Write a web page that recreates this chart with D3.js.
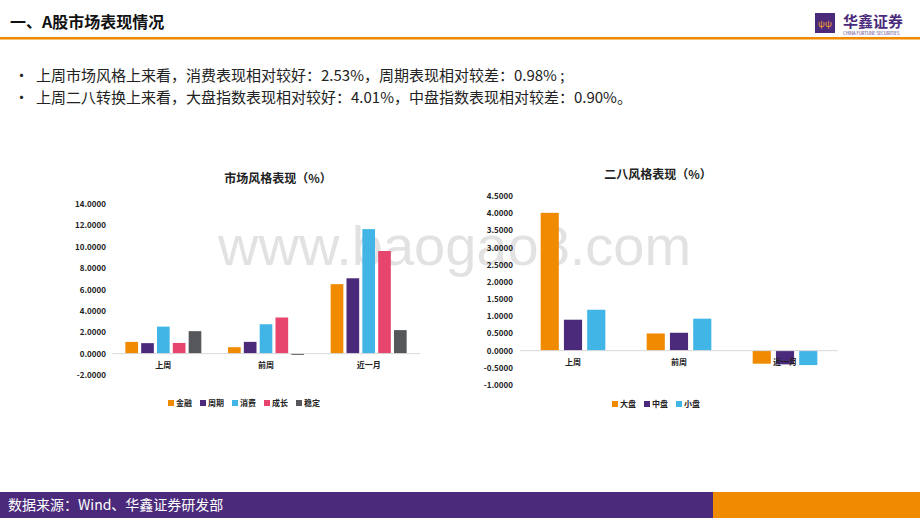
<!DOCTYPE html>
<html><head><meta charset="utf-8">
<script src="https://cdn.jsdelivr.net/npm/d3@7"></script>
<style>body{margin:0;background:#fff}svg{display:block;font-family:"Noto Sans CJK SC","Noto Sans",sans-serif}</style>
</head><body><svg id="c" width="920" height="518"></svg>
<script>
const styleCats=["上周","前周","近一月"];
const styleSeries=["金融","周期","消费","成长","稳定"];
const styleVals=[[1.10,0.98,2.53,1.00,2.10],[0.60,1.10,2.75,3.38,-0.12],[6.50,7.05,11.65,9.60,2.20]];
const styleTicks=[-2,0,2,4,6,8,10,12,14];
const sizeCats=["上周","前周","近一月"];
const sizeSeries=["大盘","中盘","小盘"];
const sizeVals=[[4.01,0.90,1.19],[0.50,0.52,0.93],[-0.38,-0.40,-0.42]];
const sizeTicks=[-1,-0.5,0,0.5,1,1.5,2,2.5,3,3.5,4,4.5];
const colors5=["#F08A00","#4B2A7B","#41B6E6","#E8456E","#55575B"];
const colors3=["#F08A00","#4B2A7B","#41B6E6"];

const svg=d3.select("#c");
svg.append("text").attr("x",10).attr("y",28).attr("font-size",16).attr("font-weight","bold").attr("fill","#111").text("一、A股市场表现情况");
svg.append("rect").attr("x",0).attr("y",37).attr("width",920).attr("height",2.5).attr("fill","#F08A00");
svg.append("rect").attr("x",815).attr("y",13).attr("width",20).attr("height",20).attr("fill","#4B2A7B");
svg.append("text").attr("x",825).attr("y",27).attr("text-anchor","middle").attr("font-size",9).attr("fill","#F0A030").text("ψψ");
svg.append("text").attr("x",843).attr("y",27).attr("font-size",15).attr("font-weight","bold").attr("fill","#4B2A7B").text("华鑫证券");
svg.append("text").attr("x",843).attr("y",35).attr("font-size",4.2).attr("fill","#4B2A7B").text("CHINA FORTUNE SECURITIES");
const bullets=["上周市场风格上来看，消费表现相对较好：2.53%，周期表现相对较差：0.98% ;","上周二八转换上来看，大盘指数表现相对较好：4.01%，中盘指数表现相对较差：0.90%。"];
bullets.forEach((b,i)=>{
  svg.append("text").attr("x",14).attr("y",81+i*22).attr("font-size",15).attr("fill","#222").text("•");
  svg.append("text").attr("x",36).attr("y",81+i*22).attr("font-size",15).attr("fill","#222").text(b);
});
svg.append("rect").attr("x",0).attr("y",492).attr("width",713).attr("height",26).attr("fill","#4B2A7B");
svg.append("rect").attr("x",713).attr("y",492).attr("width",207).attr("height",26).attr("fill","#F08A00");
svg.append("text").attr("x",8).attr("y",510).attr("font-size",14).attr("fill","#fff").text("数据来源：Wind、华鑫证券研发部");

// watermark (behind charts)
svg.append("text").attr("x",218).attr("y",265).attr("font-size",56).attr("fill","#cfcfcf").attr("fill-opacity",0.6).attr("font-family","Liberation Sans, sans-serif").text("www.baogao8.com");

function chart(o){
  const g=svg.append("g");
  g.append("text").attr("x",o.titleX).attr("y",o.titleY).attr("text-anchor","middle").attr("font-size",12).attr("font-weight","bold").attr("fill","#222").text(o.title);
  const y=d3.scaleLinear().domain(o.dom).range(o.yr);
  const x0=d3.scaleBand().domain(o.cats).range(o.xr).paddingInner(o.pi).paddingOuter(o.po);
  const x1=d3.scaleBand().domain(o.series).range([0,x0.bandwidth()]).paddingInner(o.bp);
  o.ticks.forEach(t=>{
    g.append("text").attr("x",o.labX).attr("y",y(t)+3).attr("text-anchor","end").attr("font-size",8).attr("font-weight","bold").attr("fill","#222").text(t.toFixed(4));
  });
  o.vals.forEach((vs,ci)=>{
    vs.forEach((v,si)=>{
      g.append("rect").attr("x",x0(o.cats[ci])+x1(o.series[si])).attr("width",x1.bandwidth())
        .attr("y",y(Math.max(0,v))).attr("height",Math.abs(y(v)-y(0))).attr("fill",o.colors[si]);
    });
  });
  g.append("line").attr("x1",o.xr[0]).attr("x2",o.xr[1]).attr("y1",y(0)).attr("y2",y(0)).attr("stroke","#d9d9d9");
  o.cats.forEach(c=>{
    g.append("text").attr("x",x0(c)+x0.bandwidth()/2).attr("y",y(0)+14).attr("text-anchor","middle").attr("font-size",8).attr("font-weight","bold").attr("fill","#222").text(c);
  });
  const w=o.series.length*32;
  let lx=o.legX-w/2;
  o.series.forEach((s,i)=>{
    g.append("rect").attr("x",lx+i*32).attr("y",o.legY-6).attr("width",6).attr("height",6).attr("fill",o.colors[i]);
    g.append("text").attr("x",lx+i*32+8).attr("y",o.legY).attr("font-size",8).attr("font-weight","bold").attr("fill","#222").text(s);
  });
}
chart({title:"市场风格表现（%）",titleX:278,titleY:183,cats:styleCats,series:styleSeries,vals:styleVals,ticks:styleTicks,
  dom:[-2,14],yr:[375,204],xr:[112,420],pi:0.26,po:0.13,bp:0.2,labX:106,colors:colors5,legX:248,legY:406});
chart({title:"二八风格表现（%）",titleX:658,titleY:179,cats:sizeCats,series:sizeSeries,vals:sizeVals,ticks:sizeTicks,
  dom:[-1,4.5],yr:[385,196],xr:[520,838],pi:0.39,po:0.195,bp:0.22,labX:513,colors:colors3,legX:660,legY:407});
</script></body></html>
